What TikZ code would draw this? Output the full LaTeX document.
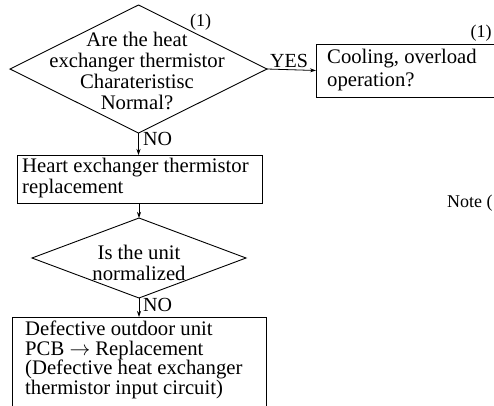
\documentclass[tikz,border=0pt]{standalone}
\usepackage{fontspec}
\setmainfont{Liberation Serif}
\usetikzlibrary{shapes.geometric,arrows.meta}
\begin{document}
\begin{tikzpicture}[x=1pt,y=-1pt,
  frame/.style={draw,line width=0.9pt,inner sep=0pt,outer sep=0pt},
  dia/.style={frame,diamond},
  rect/.style={frame,rectangle},
  txt/.style={inner sep=0pt,font=\fontsize{20.7}{21}\selectfont},
  lbl/.style={inner sep=0pt,font=\fontsize{20}{21}\selectfont},
  small/.style={inner sep=0pt,font=\fontsize{18}{20}\selectfont},
  arr/.style={line width=0.8pt,-{Stealth[length=6pt,width=4pt]}}]
\useasboundingbox (0,0) rectangle (494,405);
\clip (0,0) rectangle (494,405);
% shapes
\node[dia,minimum width=257pt,minimum height=128pt] (d1) at (138.5,69) {};
\node[rect,minimum width=210pt,minimum height=53pt,anchor=north west] (b2) at (316,44) {};
\node[rect,minimum width=245pt,minimum height=48pt,anchor=north west] (b3) at (17,155) {};
\node[dia,minimum width=214pt,minimum height=80pt] (d2) at (139,258) {};
\node[rect,minimum width=254pt,minimum height=120pt,anchor=north west] (b4) at (12,317) {};
% texts
\node[txt,align=center] (t1) at (137,71) {Are the heat\\exchanger thermistor\\Charateristisc\\Normal?};
\node[txt,align=left,anchor=north west,font=\fontsize{20.7}{23}\selectfont] (t2) at (327,49) {Cooling, overload\\operation?};
\node[txt,align=left,anchor=north west] (t3) at (22,158) {Heart exchanger thermistor\\replacement};
\node[txt,align=center] (t4) at (139,263) {Is the unit\\normalized};
\node[txt,align=left,anchor=north west,font=\fontsize{20.7}{19.6}\selectfont] (t5) at (25,321) {Defective outdoor unit\\PCB $\rightarrow$ Replacement\\(Defective heat exchanger\\thermistor input circuit)};
\node[small,anchor=base] (n1) at (200.5,26) {(1)};
\node[small,anchor=base] (n2) at (481,37) {(1)};
\node[small,anchor=base west] (note) at (447,207) {Note (};
% connectors
\draw[arr] (d1.east) -- (b2.west) node[lbl,pos=0.45,above=2pt] (yes) {YES};
\draw[arr] (d1.south) -- (b3.north -| d1.south) coordinate (c1);
\node[lbl,anchor=base west] (no1) at (143,145) {NO};
\draw[arr] (b3.south -| d2.north) -- (d2.north);
\draw[arr] (d2.south) -- (b4.north -| d2.south);
\node[lbl,anchor=base west] (no2) at (143,311) {NO};
\end{tikzpicture}
\end{document}
